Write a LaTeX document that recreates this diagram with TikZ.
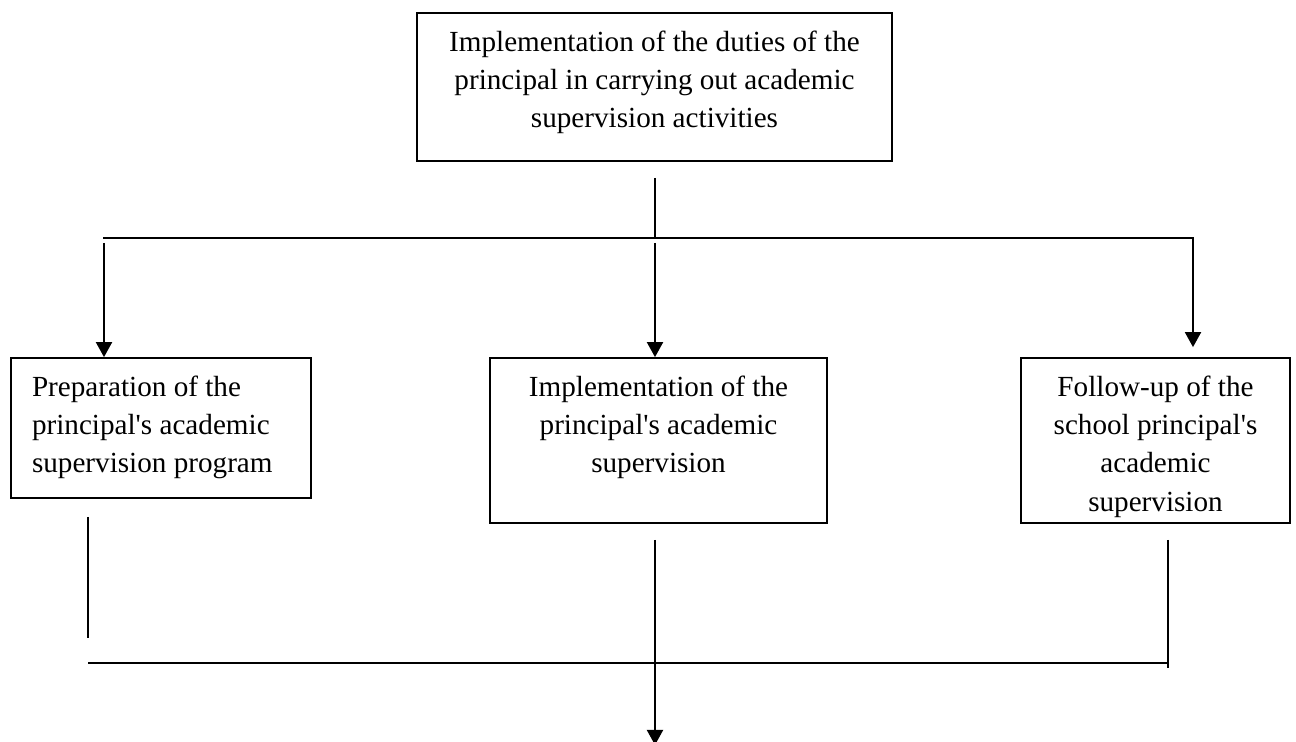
\documentclass[tikz,border=0pt]{standalone}
\usepackage{fontspec}
\setmainfont{Liberation Serif}
\usepackage{tikz}
\usetikzlibrary{arrows.meta, positioning, calc}
\newcommand{\boxtext}[3]{\parbox[t][#2][t]{#1}{#3}}
\newcommand{\aps}{\textquotesingle}

\begin{document}
\begin{tikzpicture}[x=0.02cm, y=-0.02cm,
  every node/.style={font=\fontsize{16.6pt}{21.9pt}\selectfont},
  blk/.style={draw, line width=1pt, inner xsep=0.2cm, inner ysep=0.35cm},
  ln/.style={line width=1.1pt},
  arr/.style={ln, -{Triangle[length=0.3cm, width=0.32cm]}}]

  \useasboundingbox (0,0) rectangle (1296,742);

  \node[blk] (duty) at (654.5,87)
    {\boxtext{9.1cm}{2.26cm}{\centering Implementation of the duties of the\\
     principal in carrying out academic\\ supervision activities}};

  \node[blk, inner xsep=0.42cm] (prep) at (161,428)
    {\boxtext{5.16cm}{2.1cm}{\raggedright Preparation of the\\
     principal\aps s academic\\ supervision program}};
  \node[blk] (impl) at (658.5,440.5)
    {\boxtext{6.34cm}{2.6cm}{\centering Implementation of the\\
     principal\aps s academic\\ supervision}};
  \node[blk] (follow) at (1155.5,440.5)
    {\boxtext{4.98cm}{2.6cm}{\centering Follow-up of the\\
     school principal\aps s\\ academic\\ supervision}};

  % split
  \coordinate (dutyout) at (655,178);
  \coordinate (barL) at (103,238);
  \coordinate (barC) at (655,238);
  \coordinate (barR) at (1193,238);
  \coordinate (prepin) at (104,243);
  \coordinate (implin) at (655,243);

  \draw[ln] (dutyout) -- (barC);
  \draw[arr] (barL) -- (barR) -- ($(barR |- follow.north)+(0,-10)$);
  \draw[arr] (prepin) -- (prepin |- prep.north);
  \draw[arr] (implin) -- (implin |- impl.north);

  % join
  \coordinate (prepout) at (88,517);
  \coordinate (prepend) at (88,638);
  \coordinate (implout) at (655,540);
  \coordinate (followout) at (1168,540);
  \coordinate (followend) at (1168,668);
  \coordinate (joinL) at (88,663);
  \coordinate (joinR) at (1168,663);
  \coordinate (finish) at (655,745);

  \draw[ln] (prepout) -- (prepend);
  \draw[ln] (followout) -- (followend);
  \draw[ln] (joinL) -- (joinR);
  \draw[arr] (implout) -- (finish);
\end{tikzpicture}
\end{document}
